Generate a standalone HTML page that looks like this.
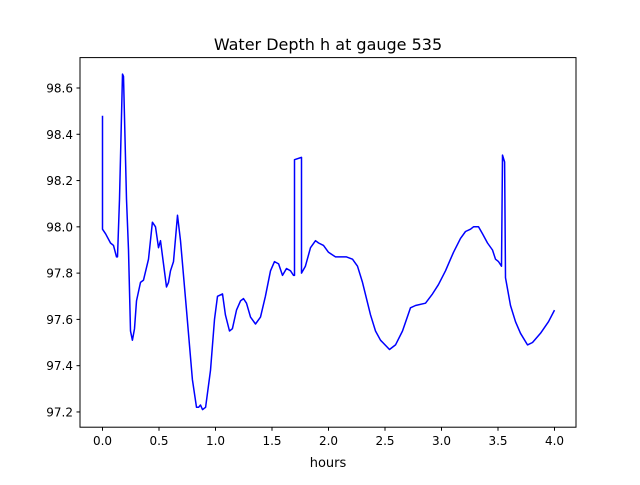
<!DOCTYPE html>
<html><head><meta charset="utf-8"><style>
body{margin:0;background:#fff;font-family:"Liberation Sans","DejaVu Sans",sans-serif}
</style></head><body>
<svg id="chart" width="640" height="480" xmlns="http://www.w3.org/2000/svg" font-family="DejaVu Sans, Liberation Sans, sans-serif">
<rect width="640" height="480" fill="#fff"/>
<text x="328" y="50" font-size="16" text-anchor="middle">Water Depth h at gauge 535</text>
<g id="plot"></g>
<rect x="80" y="57.6" width="496" height="369.6" fill="none" stroke="#000" stroke-width="1"/>
<g id="xt"></g><g id="yt"></g>
<text x="328" y="467" font-size="13" text-anchor="middle">hours</text>
</svg>
<script>
const hours=[0,0,0.027,0.071,0.097,0.124,0.133,0.150,0.177,0.186,0.212,0.230,0.248,0.265,0.283,0.301,0.336,0.363,0.407,0.442,0.469,0.496,0.513,0.540,0.566,0.584,0.602,0.628,0.664,0.690,0.743,0.796,0.832,0.850,0.867,0.885,0.912,0.956,0.991,1.018,1.062,1.088,1.124,1.150,1.186,1.221,1.248,1.274,1.310,1.354,1.398,1.442,1.487,1.522,1.558,1.593,1.628,1.664,1.690,1.699,1.699,1.761,1.761,1.796,1.841,1.885,1.912,1.956,2.0,2.062,2.159,2.212,2.257,2.301,2.372,2.416,2.460,2.540,2.593,2.655,2.726,2.770,2.858,2.920,2.973,3.035,3.080,3.106,3.168,3.212,3.257,3.283,3.327,3.363,3.407,3.451,3.478,3.504,3.531,3.540,3.558,3.566,3.611,3.655,3.699,3.761,3.805,3.876,3.947,4.0];
const depth=[98.48,97.99,97.97,97.93,97.92,97.87,97.87,98.12,98.66,98.65,98.12,97.90,97.55,97.51,97.56,97.68,97.76,97.77,97.86,98.02,98.00,97.91,97.94,97.84,97.74,97.76,97.81,97.85,98.05,97.94,97.64,97.34,97.22,97.22,97.23,97.21,97.22,97.38,97.60,97.70,97.71,97.62,97.55,97.56,97.64,97.68,97.69,97.67,97.61,97.58,97.61,97.70,97.81,97.85,97.84,97.79,97.82,97.81,97.79,97.79,98.29,98.30,97.80,97.83,97.91,97.94,97.93,97.92,97.89,97.87,97.87,97.86,97.83,97.76,97.62,97.55,97.51,97.47,97.49,97.55,97.65,97.66,97.67,97.71,97.75,97.81,97.86,97.89,97.95,97.98,97.99,98.00,98.00,97.97,97.93,97.90,97.86,97.85,97.83,98.31,98.28,97.78,97.66,97.59,97.54,97.49,97.50,97.54,97.59,97.64];
const xTicks=[0,0.5,1,1.5,2,2.5,3,3.5,4];
const xTickLabels=["0.0","0.5","1.0","1.5","2.0","2.5","3.0","3.5","4.0"];
const yTicks=[97.2,97.4,97.6,97.8,98.0,98.2,98.4,98.6];
const yTickLabels=["97.2","97.4","97.6","97.8","98.0","98.2","98.4","98.6"];
const NS="http://www.w3.org/2000/svg";
const X=h=>102.5+h*113;
const Y=v=>88-(v-98.6)*231.4;
function mk(t,a,p){const e=document.createElementNS(NS,t);for(const k in a)e.setAttribute(k,a[k]);p.appendChild(e);return e;}
const plot=document.getElementById('plot');
const line=mk('polyline',{points:hours.map((h,i)=>X(h).toFixed(1)+','+Y(depth[i]).toFixed(1)).join(' '),fill:'none',stroke:'#0000ff','stroke-width':1.5,'stroke-linejoin':'round'},plot);


const xt=document.getElementById('xt');
xTicks.forEach((t,i)=>{const x=X(t);
const tk=mk('line',{x1:x,x2:x,y1:427.2,y2:430.7,stroke:'#000'},xt);


const tx=mk('text',{x:x,y:445,'font-size':12,'text-anchor':'middle'},xt);tx.textContent=xTickLabels[i];

});
const yt=document.getElementById('yt');
yTicks.forEach((t,i)=>{const y=Y(t);
const tk=mk('line',{x1:76.5,x2:80,y1:y,y2:y,stroke:'#000'},yt);


const tx=mk('text',{x:73,y:y+4.5,'font-size':12,'text-anchor':'end'},yt);tx.textContent=yTickLabels[i];

});
</script>
</body></html>
